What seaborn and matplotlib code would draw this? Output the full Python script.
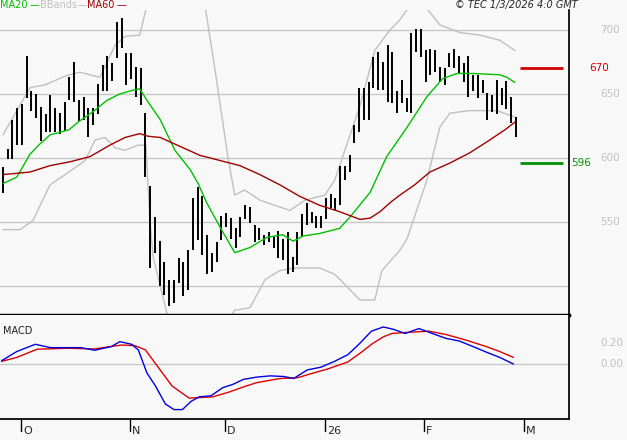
import numpy as np
import pandas as pd
import matplotlib
matplotlib.use("Agg")
import matplotlib.pyplot as plt
import seaborn as sns

highs = [593,607,630,639,642,680,652,650,640,634,649,639,635,644,663,675,645,648,639,639,658,673,680,674,706,709,682,682,671,670,635,578,
         554,535,519,505,505,522,519,528,569,577,570,540,526,534,555,557,553,545,554,563,562,548,545,540,542,539,543,537,542,523,542,556,565,558,555,555,569,572,569,594,
         594,602,626,655,655,659,679,683,675,688,683,652,661,647,698,701,701,684,685,684,671,670,682,685,680,674,680,665,665,661,651,649,661,655,660,648,632]
lows = [573,599,599,610,610,647,637,631,613,620,620,620,619,621,645,644,629,630,616,626,634,652,652,660,678,686,657,662,648,641,585,514,
        526,500,493,484,487,502,492,497,528,536,524,509,511,519,536,546,537,530,538,552,549,534,536,532,534,530,522,520,509,511,516,538,548,549,545,545,552,561,559,563,
        583,589,612,620,630,630,655,653,653,644,643,635,643,636,635,683,679,659,665,667,659,657,671,670,666,659,648,652,647,651,630,636,634,641,638,627,616]

ma20_x = [0,2.9,5.7,7.8,9.9,13.9,15.8,18.9,21.9,24.6,27.4,28.8,30.5,33.1,36.2,39.4,41.1,42.9,45.7,48.8,52.0,55.6,58.9,61.1,63.2,66.7,70.9,73.1,77.3,80.8,85.1,89.3,92.6,95.6,98.9,104.6,106.1,107.8]
ma20_y = [580,585,603,611,618,622,628,636,645,650,653,654,644,630,606,591,580,565,546,526,530,538,540,535,539,541,545,554,573,601,624,648,662,666,666,665,663,659]
ma60_x = [0,5.7,9.9,14.1,18.3,22.5,25.7,28.8,30.5,33.1,37.3,41.5,45.7,49.9,54.1,58.3,62.5,66.7,70.9,75.2,77.3,79.4,81.5,83.6,86.7,89.9,94.1,98.3,102.5,105.7,107.8]
ma60_y = [587,589,594,597,601,610,616,619,617,616,609,602,598,594,587,579,570,563,558,552,553,558,565,571,579,589,596,604,614,622,628]
bbu_x = [0,5.7,8.8,13.1,16.2,20.4,23.6,25.7,28.8,30.1,30.9,36.2,41.5,42.5,44.6,47.4,48.8,50.9,54.1,60.4,63.6,67.8,69.9,72.0,75.2,78.3,81.5,83.6,85.7,88.8,92.0,96.2,100.4,104.6,107.8]
bbu_y = [618,655,657,664,667,663,688,695,696,716,740,765,735,720,670,600,571,575,567,559,567,571,583,606,641,684,700,708,719,719,704,698,696,692,684]
bbl_x = [0,3.6,6.3,9.9,13.1,17.3,19.4,21.5,23.6,25.7,28.4,30.1,30.9,31.6,34.5,37.3,39.4,44.6,48.8,52.0,55.2,58.3,61.5,66.7,69.9,73.1,75.2,78.3,79.8,83.6,85.1,89.3,92.0,94.1,98.3,104.0,107.8]
bbl_y = [544,544,551,579,587,598,614,616,608,606,610,610,554,523,479,460,455,455,481,483,505,512,514,514,509,497,489,489,512,528,537,583,624,635,637,637,632]

macd_x = [-0.3,2.9,6.8,10.0,13.6,16.4,19.3,22.8,24.6,27.1,28.5,30.3,32.1,34.2,36.0,37.8,39.6,41.3,43.8,46.3,48.4,50.6,53.4,56.3,59.1,61.2,64.1,66.9,69.8,72.6,74.8,77.6,80.1,82.2,84.7,87.6,90.4,93.3,96.1,99.0,101.8,104.6,107.5]
macd_y = [.031,.119,.188,.156,.156,.156,.131,.166,.213,.188,.134,-.084,-.209,-.381,-.434,-.434,-.356,-.313,-.303,-.225,-.194,-.147,-.125,-.113,-.119,-.138,-.056,-.031,.025,.088,.181,.313,.353,.331,.291,.338,.291,.244,.219,.166,.113,.063,0.0]
sig_x = [-0.3,2.9,7.2,13.6,19.3,25.0,27.8,30.0,32.8,35.6,39.2,44.2,47.7,50.6,53.4,58.4,62.0,65.5,68.4,72.6,75.5,77.6,80.1,81.9,84.7,89.7,93.3,97.5,101.8,104.6,107.5]
sig_y = [.025,.063,.141,.15,.144,.181,.175,.134,-.038,-.209,-.325,-.313,-.266,-.219,-.178,-.138,-.131,-.084,-.047,.019,.113,.188,.259,.291,.3,.313,.281,.228,.166,.119,.063]

month_pos = [3.8, 26.7, 46.7, 67.8, 88.6, 109.7]
month_lab = ["O", "N", "D", "26", "F", "M"]
price_ticks = [550, 600, 650, 700]
price_grid = [500, 550, 600, 650, 700]
resist, support = 670, 596

sns.set_theme(style="white")
BG = "#f8f8f8"
plt.rcParams["font.family"] = ["DejaVu Sans"]
fig = plt.figure(figsize=(6.27, 4.40), dpi=100, facecolor=BG)
W, H = 627, 440
ax = fig.add_axes([0, 1 - 315 / H, 569 / W, 305 / H], facecolor=BG)
ax2 = fig.add_axes([0, 1 - 419 / H, 569 / W, 104 / H], facecolor=BG)

xl = (-0.63, 119.2)
for a in (ax, ax2):
    a.set_xlim(*xl)
    for s in a.spines.values():
        s.set_visible(False)
    a.spines["right"].set_visible(True)
    a.spines["right"].set_color("black")
    a.set_xticks([])
    a.set_yticks([])

ax.set_ylim(477.3, 715.6)
for g in price_grid:
    ax.axhline(g, color="#c8c8c8", lw=1, zorder=0)
ax.spines["bottom"].set_visible(True)
ax.spines["bottom"].set_linewidth(2.5)
ax.spines["bottom"].set_color("black")

idx = np.arange(len(highs))
ax.vlines(idx, lows, highs, color="black", lw=1.4, zorder=3)
sns.lineplot(x=bbu_x, y=bbu_y, ax=ax, color="#c0c0c0", lw=1, zorder=2)
sns.lineplot(x=bbl_x, y=bbl_y, ax=ax, color="#c0c0c0", lw=1, zorder=2)
sns.lineplot(x=ma20_x, y=ma20_y, ax=ax, color="#00c000", lw=1, zorder=4)
sns.lineplot(x=ma60_x, y=ma60_y, ax=ax, color="#a00000", lw=1, zorder=4)
ax.hlines(resist, 108.9, 117.9, color="#d00000", lw=2)
ax.hlines(support, 108.9, 117.9, color="#009000", lw=2)
ax.text(1.035, resist, f"{resist}", transform=ax.get_yaxis_transform(), color="#d00000",
        fontsize=7.5, va="center", ha="left", clip_on=False)
ax.text(1.003, support, f"{support}", transform=ax.get_yaxis_transform(), color="#009000",
        fontsize=7.5, va="center", ha="left", clip_on=False)
for t in price_ticks:
    ax.text(1.055, t, f"{t}", transform=ax.get_yaxis_transform(), color="#c0c0c0",
            fontsize=7.5, va="center", ha="left", clip_on=False)

ax2.set_ylim(-0.524, 0.467)
ax2.axhline(0, color="#c8c8c8", lw=1, zorder=0)
ax2.spines["bottom"].set_visible(True)
ax2.spines["bottom"].set_color("black")
sns.lineplot(x=sig_x, y=sig_y, ax=ax2, color="#e00000", lw=1)
sns.lineplot(x=macd_x, y=macd_y, ax=ax2, color="#0000e0", lw=1)
ax2.text(0.005, 0.85, "MACD", transform=ax2.transAxes, fontsize=7, color="#202020", va="center")
for v, lab in [(0.2, "0.20"), (0.0, "0.00")]:
    ax2.text(1.055, v, lab, transform=ax2.get_yaxis_transform(), color="#c0c0c0",
             fontsize=7.5, va="center", ha="left", clip_on=False)
for p, lab in zip(month_pos, month_lab):
    ax2.plot([p, p], [0, -0.12], transform=ax2.get_xaxis_transform(), color="black", lw=1, clip_on=False)
    ax2.text(p + 0.4, -0.12, lab, transform=ax2.get_xaxis_transform(), fontsize=8, ha="left", va="center",
             clip_on=False)

fig.text(0.0, 1 - 5 / H, "MA20", color="#00c000", fontsize=7, va="center")
fig.text(0.047, 1 - 5 / H, "—", color="#00c000", fontsize=7, va="center")
fig.text(0.064, 1 - 5 / H, "BBands", color="#c0c0c0", fontsize=7, va="center")
fig.text(0.124, 1 - 5 / H, "—", color="#c0c0c0", fontsize=7, va="center")
fig.text(0.138, 1 - 5 / H, "MA60", color="#a00000", fontsize=7, va="center")
fig.text(0.186, 1 - 5 / H, "—", color="#a00000", fontsize=7, va="center")
fig.text(455 / W, 1 - 5 / H, "© TEC 1/3/2026 4:0 GMT", fontsize=7, style="italic", va="center", ha="left")

fig.savefig("out.png", dpi=100, facecolor=BG)
